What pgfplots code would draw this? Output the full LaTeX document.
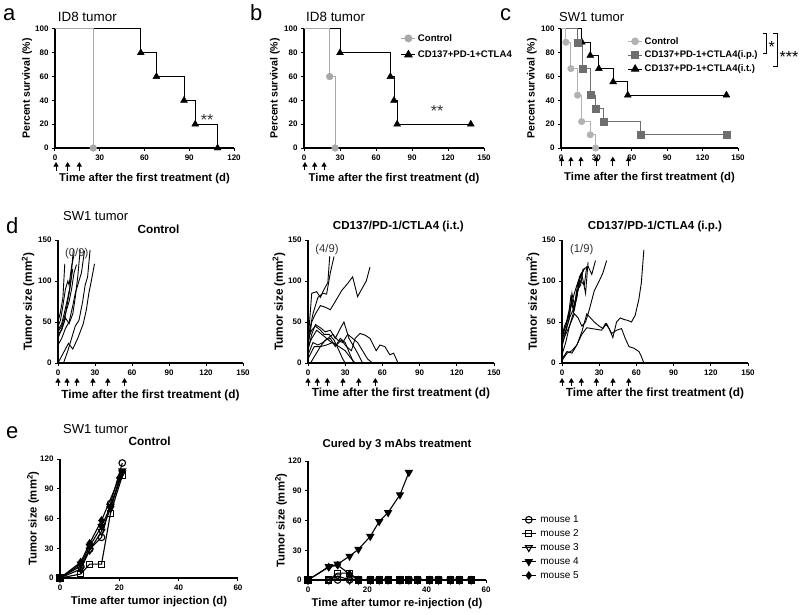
\documentclass[border=0pt]{standalone}
\usepackage{fontspec}
\setmainfont{Liberation Sans}
\usepackage{pgfplots}
\pgfplotsset{compat=1.18}
\usetikzlibrary{arrows.meta}

\definecolor{ctrl}{HTML}{A8A8A8}
\definecolor{ctrlc}{HTML}{B2B2B2}
\definecolor{ipc}{HTML}{6E6E6E}

\newcommand{\fs}[1]{\fontsize{#1}{#1}\selectfont}
% treatment arrow under the x axis
\newcommand{\tx}[3]{\draw[line width=1pt,-{Triangle[length=4.5pt,width=5pt]}] (axis cs:#1,#2) -- (axis cs:#1,#3);}

\pgfplotsset{
  prism/.style={
    scale only axis, anchor=south west, clip=false,
    axis x line*=bottom, axis y line*=left,
    axis line style={-, line width=1.1pt},
    tick align=outside, major tick length=3pt,
    tick style={black, line width=1pt},
    /pgf/number format/assume math mode=true,
    tick label style={font=\fs{8}\bfseries},
    label style={font=\fs{11.3}\bfseries},
    xlabel style={anchor=center},
    ylabel style={anchor=center},
    legend cell align=left,
    legend image code/.code={\draw[mark repeat=2,mark phase=2,##1] plot coordinates {(0pt,0pt) (7pt,0pt) (14pt,0pt)};},
  },
  surv/.style={prism, xmin=0, ymin=0, ymax=100, ytick={0,20,...,100}, height=119pt,
    ylabel={Percent survival (\%)},
    xlabel={Time after the first treatment (d)},
    ylabel style={font=\fs{10.5}\bfseries}},
  tum/.style={prism, xmin=0, xmax=150, ymin=0, ymax=150, xtick={0,30,...,150}, ytick={0,50,100,150},
    height=123pt,
    ylabel={Tumor size (mm\textsuperscript{2})},
    xlabel={Time after the first treatment (d)},
    label style={font=\fs{11.8}\bfseries}},
  km/.style={const plot, line width=1pt, mark=none, forget plot},
  dl/.style={black, line width=0.9pt, mark=none, forget plot},
  em/.style={black, line width=1.1pt},
}

\begin{document}
\begin{tikzpicture}
\path[use as bounding box] (0,0) rectangle (800pt,-615pt);

% ---------------- a ----------------
\begin{axis}[surv, at={(55pt,-148pt)}, width=179pt, xmax=120, xtick={0,30,...,120},
  xlabel style={at={(axis description cs:0.5,-0.26)}},
  ylabel style={at={(axis description cs:-0.156,0.5)}}]
\addplot[km, black] coordinates {(0,100)(57.5,80)(68,60)(86.5,40)(94,20)(109,0)};
\addplot[only marks, mark=triangle*, mark size=4pt, black, forget plot] coordinates {(57.5,80)(68,60)(86.5,40)(94,20)(109,0)};
\addplot[km, ctrl] coordinates {(0,100)(25.6,0)};
\addplot[only marks, mark=*, mark size=3.4pt, ctrl, forget plot] coordinates {(25.6,0)};
\node[anchor=base, font=\fs{16}, text=black!80] at (axis cs:102,18.5) {**};
\tx{0.7}{-19.3}{-11.8}
\tx{8.5}{-19.3}{-11.8}
\tx{16.3}{-19.3}{-11.8}
\end{axis}

% ---------------- b ----------------
\begin{axis}[surv, at={(304pt,-148pt)}, width=180pt, xmax=150, xtick={0,30,...,150},
  xlabel style={at={(axis description cs:0.5,-0.26)}},
  ylabel style={at={(axis description cs:-0.161,0.5)}},
  legend style={at={(axis description cs:0.537,0.975)}, anchor=north west, draw=none, fill=none,
    font=\fs{9.6}\bfseries, row sep=4pt, inner sep=0pt}]
\addlegendimage{ctrl, line width=1.1pt, mark=*, mark size=3.4pt}
\addlegendentry{Control}
\addlegendimage{black, line width=1.1pt, mark=triangle*, mark size=4pt}
\addlegendentry{CD137+PD-1+CTLA4}
\addplot[km, black] coordinates {(0,100)(30,80)(72,60)(75,40)(77.6,20)(139,20)};
\addplot[only marks, mark=triangle*, mark size=4pt, black, forget plot] coordinates {(30,80)(72,60)(75,40)(77.6,20)(139,20)};
\addplot[km, ctrl] coordinates {(0,100)(21.4,60)(25.9,0)};
\addplot[only marks, mark=*, mark size=3.4pt, ctrl, forget plot] coordinates {(21.4,60)(25.9,0)};
\node[anchor=base, font=\fs{16}, text=black!80] at (axis cs:111,26.4) {**};
\tx{0.8}{-18.5}{-11.8}
\tx{8.9}{-18.5}{-11.8}
\tx{16.7}{-18.5}{-11.8}
\end{axis}

% ---------------- c ----------------
\begin{axis}[surv, at={(561pt,-148pt)}, width=177pt, xmax=150, xtick={0,30,...,150},
  xlabel style={at={(axis description cs:0.5,-0.252)}},
  ylabel style={at={(axis description cs:-0.164,0.5)}},
  legend style={at={(axis description cs:0.375,0.95)}, anchor=north west, draw=none, fill=none,
    font=\fs{9.5}\bfseries, row sep=1.5pt, inner sep=0pt}]
\addlegendimage{ctrlc, line width=1.1pt, mark=*, mark size=3.3pt}
\addlegendentry{Control}
\addlegendimage{ipc, line width=1.1pt, mark=square*, mark size=3.5pt}
\addlegendentry{CD137+PD-1+CTLA4(i.p.)}
\addlegendimage{black, line width=1.1pt, mark=triangle*, mark size=4pt}
\addlegendentry{CD137+PD-1+CTLA4(i.t.)}
\addplot[km, black] coordinates {(0,100)(17.7,88.9)(24.8,77.8)(32.1,66.7)(44.2,55.6)(56.6,44.4)(140.2,44.4)};
\addplot[only marks, mark=triangle*, mark size=4pt, black, forget plot] coordinates {(17.7,88.9)(24.8,77.8)(32.1,66.7)(44.2,55.6)(56.6,44.4)(140.2,44.4)};
\addplot[km, ipc] coordinates {(0,100)(13.8,88.9)(18,66.7)(25.3,44.4)(29.6,33.3)(36.3,22.2)(67.3,11.1)(140.2,11.1)};
\addplot[only marks, mark=square*, mark size=3.5pt, ipc, forget plot] coordinates {(13.8,88.9)(18,66.7)(25.3,44.4)(29.6,33.3)(36.3,22.2)(67.3,11.1)(140.2,11.1)};
\addplot[km, ctrlc] coordinates {(0,100)(4.2,88.9)(8.4,66.7)(14,44.4)(17.5,22.2)(24.8,11.1)(29.3,0)};
\addplot[only marks, mark=*, mark size=3.3pt, ctrlc, forget plot] coordinates {(4.2,88.9)(8.4,66.7)(14,44.4)(17.5,22.2)(24.8,11.1)(29.3,0)};
\tx{0.6}{-15.3}{-7.3}
\tx{8.4}{-15.3}{-7.3}
\tx{16.9}{-15.3}{-7.3}
\tx{30.1}{-15.3}{-7.3}
\tx{43.9}{-15.3}{-7.3}
\tx{57.1}{-15.3}{-7.3}
\end{axis}

% ---------------- d1 ----------------
\begin{axis}[tum, at={(58pt,-363pt)}, width=185pt,
  xlabel style={at={(axis description cs:0.5,-0.26)}},
  ylabel style={at={(axis description cs:-0.162,0.5)}}]
\addplot[dl] coordinates {(0,0)(8.5,24)(12,17)(16,30)(20.5,48)(23,65)(25,85)(27,100)(29.6,121)};
\addplot[dl] coordinates {(4.5,0)(8,15)(11,30)(14,45)(17,52)(20,75)(22,95)(24,105)(26,138)};
\addplot[dl] coordinates {(0,22)(3,30)(6,42)(9,50)(12,70)(14,85)(17,100)(19,110)(21.5,137)};
\addplot[dl] coordinates {(0,35)(3,40)(6,55)(9,48)(12,60)(14,80)(16,105)(18,138)};
\addplot[dl] coordinates {(0,40)(3,48)(5,60)(8,80)(10,95)(12.5,139)};
\addplot[dl] coordinates {(0,45)(2,52)(4,70)(6,90)(8,100)(9,95)(11,118)(13,132)};
\addplot[dl] coordinates {(0,50)(2,62)(4,80)(5.5,121)};
\addplot[dl] coordinates {(0,38)(3,45)(6,60)(9,75)(11,90)(13,110)(15,120)};
\addplot[dl] coordinates {(0,30)(2,38)(5,50)(7,68)(9,85)(10.5,100)(12,115)};
\tx{0}{-28}{-18.3}
\tx{7.3}{-28}{-18.3}
\tx{15.4}{-28}{-18.3}
\tx{28.3}{-28}{-18.3}
\tx{40.4}{-28}{-18.3}
\tx{53.9}{-28}{-18.3}
\end{axis}

% ---------------- d2 ----------------
\begin{axis}[tum, at={(308pt,-363pt)}, width=186pt,
  xlabel style={at={(axis description cs:0.5,-0.245)}},
  ylabel style={at={(axis description cs:-0.156,0.5)}}]
\addplot[dl] coordinates {(0,25)(3,85)(7,87)(10,80)(13,90)(16,98)(17.5,130)};
\addplot[dl] coordinates {(0,30)(4,60)(8,80)(12,85)(15,84)(18,110)(21,130)};
\addplot[dl] coordinates {(0,20)(3,50)(6,60)(10,70)(14,68)(18,65)(22,75)(27,88)(32,97)(36,105)(40,81)(44,92)(47,100)(50,117)};
\addplot[dl] coordinates {(0,15)(3,35)(6,47)(10,43)(14,38)(18,40)(22,30)(26,42)(29,50)(33,30)(37,20)(40,12)(44,0)};
\addplot[dl] coordinates {(0,20)(3,30)(7,40)(11,35)(15,30)(19,25)(23,22)(27,28)(31,20)(35,15)(38,30)(42,36)(46,34)(50,30)(55,15)(58,22)(62,20)(66,10)(69,12)(72.6,0)};
\addplot[dl] coordinates {(0,10)(4,25)(8,22)(12,25)(16,30)(20,35)(24,28)(28,25)(32,35)(36,30)(40,25)(44,15)(48,5)(52,0)};
\addplot[dl] coordinates {(0,5)(5,20)(10,20)(15,22)(20,25)(25,20)(30,15)(35,5)(38,0)};
\addplot[dl] coordinates {(2,0)(6,10)(10,20)(14,28)(18,30)(22,20)(26,30)(30,25)(34,10)(37,0)};
\addplot[dl] coordinates {(0,30)(3,40)(6,45)(10,40)(13,35)(17,35)(21,28)(25,15)(28,5)(30,0)};
\tx{0}{-28}{-18.3}
\tx{7.5}{-28}{-18.3}
\tx{15.6}{-28}{-18.3}
\tx{28.2}{-28}{-18.3}
\tx{40.9}{-28}{-18.3}
\tx{54.3}{-28}{-18.3}
\end{axis}

% ---------------- d3 ----------------
\begin{axis}[tum, at={(562pt,-363pt)}, width=186pt,
  xlabel style={at={(axis description cs:0.5,-0.245)}},
  ylabel style={at={(axis description cs:-0.156,0.5)}}]
\addplot[dl] coordinates {(0,3)(4,12)(8,15)(12,22)(16,35)(20,43)(24,42)(28,41)(32,40)(35,48)(38,42)(41,31)(44,50)(47,55)(50,53)(53,52)(56,50)(59,58)(62,78)(64,98)(66,138)};
\addplot[dl] coordinates {(0,5)(4,14)(8,12)(12,22)(16,38)(20,60)(23,55)(26,50)(30,45)(33,42)(36,48)(40,36)(44,40)(48,42)(51,30)(54,20)(58,18)(62,14)(64,8)(66,0)};
\addplot[dl] coordinates {(0,25)(3,35)(6,45)(10,60)(13,55)(16,45)(19,50)(22,65)(26,88)(30,100)(33,110)(36,125)};
\addplot[dl] coordinates {(0,30)(3,45)(6,60)(9,80)(12,95)(15,105)(18,115)(21,118)(24,108)(27,125)};
\addplot[dl] coordinates {(0,28)(3,40)(6,55)(8,85)(10,70)(13,100)(16,108)(19,85)(21,123)};
\addplot[dl] coordinates {(0,35)(3,45)(5,60)(8,75)(10,65)(13,90)(15,95)(17,115)};
\addplot[dl] coordinates {(0,20)(3,38)(6,55)(9,65)(12,85)(15,100)(18,95)(20,118)};
\addplot[dl] coordinates {(0,32)(2,45)(5,55)(7,80)(9,65)(12,80)(14,105)(16,110)};
\addplot[dl] coordinates {(0,10)(3,25)(6,45)(9,60)(11,75)(13,90)(15,108)(18,115)};
\tx{0}{-28}{-18.3}
\tx{7.5}{-28}{-18.3}
\tx{15.6}{-28}{-18.3}
\tx{27.7}{-28}{-18.3}
\tx{41.1}{-28}{-18.3}
\tx{53.8}{-28}{-18.3}
\end{axis}

% ---------------- e1 ----------------
\begin{axis}[prism, at={(60pt,-578pt)}, width=178pt, height=119pt,
  xmin=0, xmax=60, ymin=0, ymax=120, xtick={0,20,40,60}, ytick={0,30,...,120},
  xlabel={Time after tumor injection (d)}, ylabel={Tumor size (mm\textsuperscript{2})},
  xlabel style={at={(axis description cs:0.5,-0.2)}},
  ylabel style={at={(axis description cs:-0.152,0.5)}}]
\addplot[em, mark=o, mark size=3.3pt, mark options={fill=white}] coordinates {(0,0)(7,12)(10,29)(14,41)(17,75)(21,116)};
\addplot[em, mark=square, mark size=3pt, mark options={fill=white}] coordinates {(0,0)(7,4)(10,14)(14,14)(17,65)(21,103)};
\addplot[em, mark=triangle, mark size=3.8pt, mark options={rotate=180, fill=white}] coordinates {(0,0)(7,9)(10,28)(14,47)(17,70)(21,106)};
\addplot[em, mark=triangle*, mark size=3.8pt, mark options={rotate=180}] coordinates {(0,0)(7,14)(10,32)(14,52)(17,72)(21,108)};
\addplot[em, mark=diamond*, mark size=3.5pt] coordinates {(0,0)(7,16)(10,35)(14,58)(20,101)};
\end{axis}

% ---------------- e2 ----------------
\begin{axis}[prism, at={(308pt,-580pt)}, width=178pt, height=119pt,
  xmin=0, xmax=60, ymin=0, ymax=120, xtick={0,20,40,60}, ytick={0,30,...,120},
  xlabel={Time after tumor re-injection (d)}, ylabel={Tumor size (mm\textsuperscript{2})},
  xlabel style={at={(axis description cs:0.5,-0.2)}},
  ylabel style={at={(axis description cs:-0.152,0.5)}},
  legend style={at={(axis description cs:1.197,0.56)}, anchor=north west, draw=none, fill=none,
    font=\fs{10}, row sep=1.5pt, inner sep=0pt,
    /tikz/every odd column/.append style={column sep=2pt}}]
\addplot[em, mark=o, mark size=3.3pt, mark options={fill=white}] coordinates {(0,0)(7,0)(10,0)(14,0)(17,0)(21,0)(24,0)(27,0)(31,0)(34,0)(37,0)(41,0)(44,0)(48,0)(51,0)(55,0)};
\addlegendentry{mouse 1}
\addplot[em, mark=square, mark size=3pt, mark options={fill=white}] coordinates {(0,0)(7,0)(10,7)(14,7)(17,0)(21,0)(24,0)(27,0)(31,0)(34,0)(37,0)(41,0)(44,0)(48,0)(51,0)(55,0)};
\addlegendentry{mouse 2}
\addplot[em, mark=triangle, mark size=3.8pt, mark options={rotate=180, fill=white}] coordinates {(0,0)(7,0)(10,4)(14,0)(17,0)(21,0)(24,0)(27,0)(31,0)(34,0)(37,0)(41,0)(44,0)(48,0)(51,0)(55,0)};
\addlegendentry{mouse 3}
\addplot[em, mark=triangle*, mark size=3.8pt, mark options={rotate=180}] coordinates {(0,0)(7,13.5)(10,16)(14,24)(17,31)(21,44)(24,59)(27,68)(31,86)(34,108.5)};
\addlegendentry{mouse 4}
\addplot[em, mark=diamond*, mark size=3.5pt] coordinates {(0,0)(7,13)(10,15)(14,6)(17,0)(21,0)(24,0)(27,0)(31,0)(34,0)(37,0)(41,0)(44,0)(48,0)(51,0)(55,0)};
\addlegendentry{mouse 5}
\end{axis}

% ---------------- text outside the axes ----------------
\node[anchor=base west, inner sep=0, font=\fs{22}] at (3pt,-21pt) {a};
\node[anchor=base west, inner sep=0, font=\fs{22}] at (250pt,-21pt) {b};
\node[anchor=base west, inner sep=0, font=\fs{22}] at (500pt,-21pt) {c};
\node[anchor=base west, inner sep=0, font=\fs{22}] at (6pt,-233pt) {d};
\node[anchor=base west, inner sep=0, font=\fs{22}] at (6pt,-438pt) {e};
\node[anchor=base west, inner sep=0, font=\fs{13.4}] at (57.7pt,-21.7pt) {ID8 tumor};
\node[anchor=base west, inner sep=0, font=\fs{13.4}] at (306pt,-21.7pt) {ID8 tumor};
\node[anchor=base west, inner sep=0, font=\fs{13}] at (559pt,-22pt) {SW1 tumor};
\node[anchor=base west, inner sep=0, font=\fs{13}] at (63pt,-220pt) {SW1 tumor};
\node[anchor=base west, inner sep=0, font=\fs{13}] at (63pt,-433pt) {SW1 tumor};
\node[anchor=base, inner sep=0, font=\fs{11.8}\bfseries] at (158.5pt,-233pt) {Control};
\node[anchor=base, inner sep=0, font=\fs{11.6}\bfseries] at (398.3pt,-229pt) {CD137/PD-1/CTLA4 (i.t.)};
\node[anchor=base, inner sep=0, font=\fs{11.6}\bfseries] at (655pt,-229pt) {CD137/PD-1/CTLA4 (i.p.)};
\node[anchor=base, inner sep=0, font=\fs{11.8}\bfseries] at (149.7pt,-445pt) {Control};
\node[anchor=base, inner sep=0, font=\fs{11.4}\bfseries] at (397pt,-447pt) {Cured by 3 mAbs treatment};
\node[anchor=base, inner sep=0, font=\fs{11.3}, text=black!80] at (76.7pt,-256pt) {(0/9)};
\node[anchor=base, inner sep=0, font=\fs{11.3}, text=black!80] at (327pt,-252pt) {(4/9)};
\node[anchor=base, inner sep=0, font=\fs{11.3}, text=black!80] at (581.7pt,-252pt) {(1/9)};
% significance brackets in c
\draw[line width=1pt] (762.7pt,-33.3pt) -- (766.7pt,-33.3pt) -- (766.7pt,-53.3pt) -- (762.7pt,-53.3pt);
\draw[line width=1pt] (773.3pt,-33.3pt) -- (777pt,-33.3pt) -- (777pt,-66.7pt) -- (773.3pt,-66.7pt);
\node[anchor=base, inner sep=0, font=\fs{16}] at (771.8pt,-52.3pt) {*};
\node[anchor=base, inner sep=0, font=\fs{16}] at (789pt,-62.6pt) {***};
\end{tikzpicture}
\end{document}
